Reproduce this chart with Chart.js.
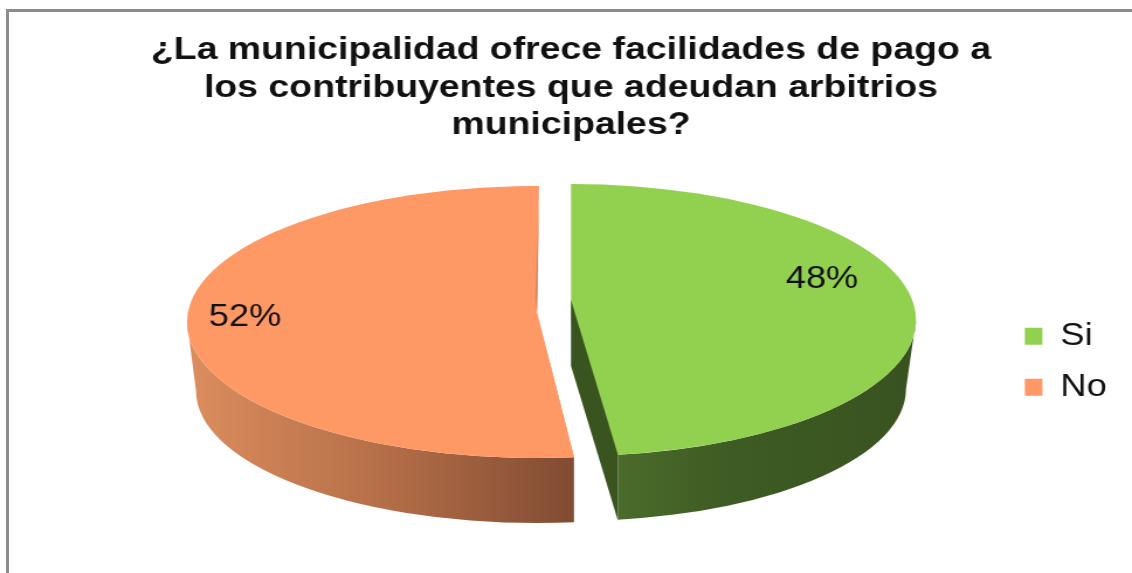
<!DOCTYPE html>
<html>
<head>
<meta charset="utf-8">
<script src="https://cdn.jsdelivr.net/npm/chart.js@4/dist/chart.umd.min.js"></script>
<style>
html,body{margin:0;padding:0;background:#fff;width:1132px;height:573px;overflow:hidden}
#frame{position:absolute;left:6px;top:9px;width:1126px;height:564px;border-left:3px solid #8c8c8c;border-top:3px solid #8c8c8c;box-sizing:border-box}
#c{position:absolute;left:0;top:0;transform-origin:0 0;transform:scaleX(1.1694);filter:blur(0.35px)}
</style>
</head>
<body>
<div id="frame"></div>
<canvas id="c" width="968" height="573"></canvas>
<script>
const categories = ['Si', 'No'];
const values = [48, 52];
const percentLabels = ['48%', '52%'];
const sliceColors = ['#92D050', '#FE9865'];
const titleLines = [
  '¿La municipalidad ofrece facilidades de pago a',
  'los contribuyentes que adeudan arbitrios',
  'municipales?'
];

const STRETCH = 1132 / 968;
// Projection of each slice of the tilted pie, in page pixels.
const projection = [
  { cx: 571, cy: 320, rx: 345, ry: 136, bcx: 571, bcy: 389, brx: 335, bry: 132, label: [822, 279] },
  { cx: 537, cy: 322, rx: 350, ry: 136, bcx: 537, bcy: 391, brx: 341, bry: 132, label: [245, 317] }
];

function wall(ctx, p, a0, a1, fill) {
  ctx.beginPath();
  ctx.ellipse(p.cx, p.cy, p.rx, p.ry, 0, a0, a1, false);
  ctx.ellipse(p.bcx, p.bcy, p.brx, p.bry, 0, a1, a0, true);
  ctx.closePath();
  ctx.fillStyle = fill;
  ctx.fill();
}
function poly(ctx, pts, fill) {
  ctx.beginPath();
  pts.forEach((q, i) => i ? ctx.lineTo(q[0], q[1]) : ctx.moveTo(q[0], q[1]));
  ctx.closePath();
  if (fill) { ctx.fillStyle = fill; ctx.fill(); }
}
function face(ctx, el, p) {
  ctx.save();
  ctx.translate(p.cx, p.cy);
  ctx.scale(p.rx / el.outerRadius, p.ry / el.outerRadius);
  ctx.translate(-el.x, -el.y);
  el.draw(ctx);
  ctx.restore();
}

const tiltedPie = {
  id: 'tiltedPie',
  beforeDatasetsDraw(chart) {
    const ctx = chart.ctx;
    const [green, orange] = chart.getDatasetMeta(0).data;
    const pg = projection[0], po = projection[1];
    ctx.save();
    ctx.scale(1 / STRETCH, 1);

    // orange slice: outer wall, then top face
    ctx.save();
    ctx.beginPath(); ctx.rect(0, 0, 574, 573); ctx.clip();
    const og = ctx.createLinearGradient(190, 0, 574, 0);
    og.addColorStop(0, '#DB8D5E');
    og.addColorStop(0.5, '#B56F48');
    og.addColorStop(1, '#814C33');
    wall(ctx, po, orange.startAngle, Math.PI, og);
    ctx.restore();

    ctx.save();
    poly(ctx, [[0, 0], [539, 0], [539, 186], [537, 312], [574, 457], [574, 573], [0, 573]]);
    ctx.clip();
    face(ctx, orange, po);
    ctx.restore();
    poly(ctx, [[520, 187], [539, 186], [537, 312], [574, 457], [520, 450]], sliceColors[1]);
    poly(ctx, [[539, 205], [537, 312], [535.5, 298]], '#C97D54');

    // green slice: outer wall, top face, inner cut wall
    ctx.save();
    ctx.beginPath(); ctx.rect(618, 0, 514, 573); ctx.clip();
    const gg = ctx.createLinearGradient(618, 0, 916, 0);
    gg.addColorStop(0, '#4B6C2B');
    gg.addColorStop(0.35, '#3F5C24');
    gg.addColorStop(1, '#395320');
    wall(ctx, pg, 0, green.endAngle, gg);
    ctx.restore();
    face(ctx, green, pg);
    poly(ctx, [[571, 300], [618, 455], [618, 521], [571, 366]], '#3A5420');

    // percent labels
    ctx.restore();
    ctx.save();
    ctx.font = '31px "Liberation Sans", Arial, sans-serif';
    ctx.fillStyle = '#111';
    ctx.textAlign = 'center';
    ctx.textBaseline = 'middle';
    percentLabels.forEach((t, i) => {
      ctx.fillText(t, projection[i].label[0] / STRETCH, projection[i].label[1]);
    });
    ctx.restore();
    return false;
  }
};

new Chart(document.getElementById('c'), {
  type: 'pie',
  data: {
    labels: categories,
    datasets: [{ data: values, backgroundColor: sliceColors, borderWidth: 0, hoverOffset: 0 }]
  },
  options: {
    responsive: false,
    animation: false,
    layout: { padding: { left: 20, right: 11.5, top: 0, bottom: 0 } },
    plugins: {
      tooltip: { enabled: false },
      title: {
        display: true,
        text: titleLines,
        color: '#111',
        font: { family: '"Liberation Sans", Arial, sans-serif', size: 32, weight: 'bold', lineHeight: 1.16 },
        padding: { top: 32, bottom: 7 }
      },
      legend: {
        display: true,
        position: 'right',
        fullSize: false,
        labels: {
          boxWidth: 15,
          boxHeight: 17,
          padding: 20,
          color: '#111',
          font: { family: '"Liberation Sans", Arial, sans-serif', size: 31 }
        }
      }
    }
  },
  plugins: [tiltedPie]
});
</script>
</body>
</html>
